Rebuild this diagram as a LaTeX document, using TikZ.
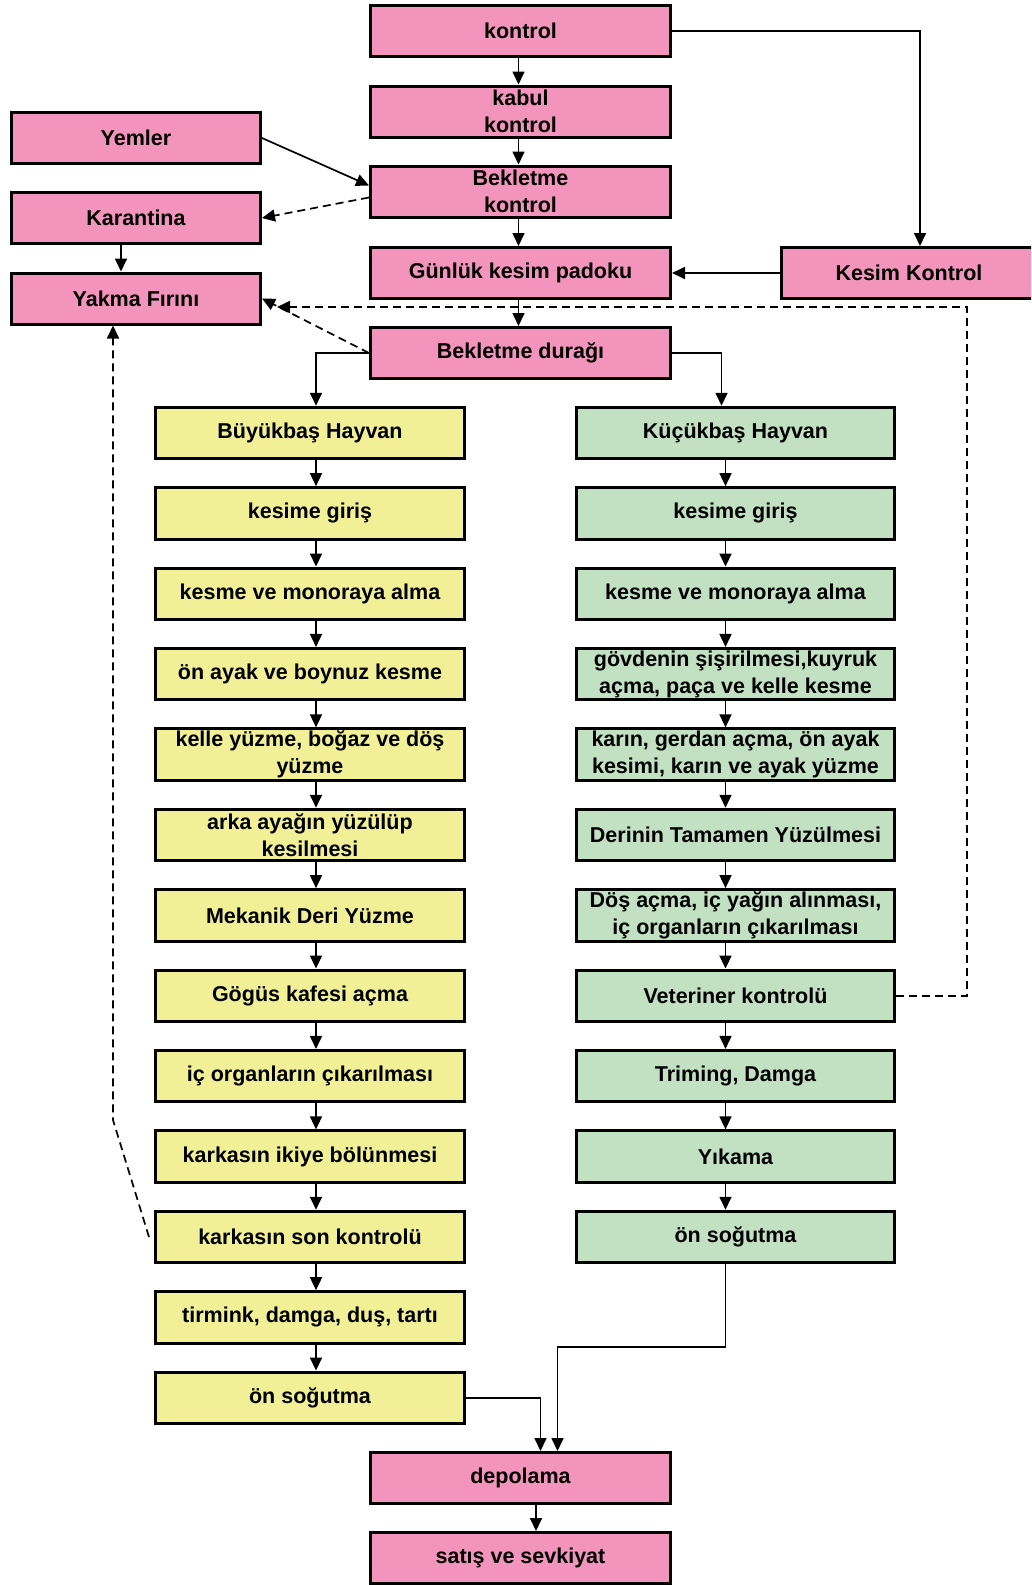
\documentclass[tikz,border=0pt]{standalone}
\usepackage{fontspec}
\setmainfont{Liberation Sans}
\usepackage{xcolor}
\usepackage{tikz}
\usetikzlibrary{arrows.meta, positioning, calc}

\definecolor{boxpink}{RGB}{242,148,188}
\definecolor{boxyellow}{RGB}{241,240,151}
\definecolor{boxgreen}{RGB}{194,225,194}

\begin{document}
\begin{tikzpicture}[x=1pt, y=-1pt,
            pink_box/.style={rectangle, draw=black, line width=3pt, fill=boxpink,
            minimum width=300pt, minimum height=51pt, inner sep=0pt, align=center,
            font=\fontsize{21.5}{27}\selectfont\bfseries},
            side_box/.style={pink_box, minimum width=249pt},
            yel_box/.style={pink_box, fill=boxyellow, minimum width=309pt, minimum height=51.5pt},
            grn_box/.style={pink_box, fill=boxgreen, minimum width=318pt, minimum height=51.5pt},
            flow/.style={-{Triangle[length=13pt,width=12pt]}, line width=1.7pt},
            back/.style={flow, dash pattern=on 8pt off 5pt}
        ]
            \useasboundingbox (0,0) rectangle (1031,1585);
            \clip (0,0) rectangle (1031,1585);

            % Intake (middle column)
            \node[pink_box] (kontrol) at (520.5, 31)   {kontrol};
            \node[pink_box] (kabul)   at (520.5, 111.5) {kabul\\kontrol};
            \node[pink_box] (bekk)    at (520.5, 191.5) {Bekletme\\kontrol};
            \node[pink_box] (padok)   at (520.5, 273)   {Günlük kesim padoku};
            \node[pink_box] (durak)   at (520.5, 353)   {Bekletme durağı};

            % Side boxes
            \node[side_box] (yem)    at (136, 138)   {Yemler};
            \node[side_box] (karan)  at (136, 218)   {Karantina};
            \node[side_box] (firin)  at (136, 298.5) {Yakma Fırını};
            \node[pink_box, minimum width=256pt] (kesim) at (909, 273) {Kesim Kontrol};

            % Large animals (left column)
            \node[yel_box] (b0)  at (310, 433)    {Büyükbaş Hayvan};
            \node[yel_box] (b1)  at (310, 513.4)  {kesime giriş};
            \node[yel_box] (b2)  at (310, 593.8)  {kesme ve monoraya alma};
            \node[yel_box] (b3)  at (310, 674.2)  {ön ayak ve boynuz kesme};
            \node[yel_box] (b4)  at (310, 754.6)  {kelle yüzme, boğaz ve döş\\yüzme};
            \node[yel_box] (b5)  at (310, 835)    {arka ayağın yüzülüp\\kesilmesi};
            \node[yel_box] (b6)  at (310, 915.4)  {Mekanik Deri Yüzme};
            \node[yel_box] (b7)  at (310, 995.8)  {Gögüs kafesi açma};
            \node[yel_box] (b8)  at (310, 1076.2) {iç organların çıkarılması};
            \node[yel_box] (b9)  at (310, 1156.6) {karkasın ikiye bölünmesi};
            \node[yel_box] (b10) at (310, 1237)   {karkasın son kontrolü};
            \node[yel_box] (b11) at (310, 1317.4) {tirmink, damga, duş, tartı};
            \node[yel_box] (b12) at (310, 1397.8) {ön soğutma};

            % Small animals (right column)
            \node[grn_box] (k0)  at (735.5, 433)    {Küçükbaş Hayvan};
            \node[grn_box] (k1)  at (735.5, 513.4)  {kesime giriş};
            \node[grn_box] (k2)  at (735.5, 593.8)  {kesme ve monoraya alma};
            \node[grn_box] (k3)  at (735.5, 674.2)  {gövdenin şişirilmesi,kuyruk\\açma, paça ve kelle kesme};
            \node[grn_box] (k4)  at (735.5, 754.6)  {karın, gerdan açma, ön ayak\\kesimi, karın ve ayak yüzme};
            \node[grn_box] (k5)  at (735.5, 835)    {Derinin Tamamen Yüzülmesi};
            \node[grn_box] (k6)  at (735.5, 915.4)  {Döş açma, iç yağın alınması,\\iç organların çıkarılması};
            \node[grn_box] (k7)  at (735.5, 995.8)  {Veteriner kontrolü};
            \node[grn_box] (k8)  at (735.5, 1076.2) {Triming, Damga};
            \node[grn_box] (k9)  at (735.5, 1156.6) {Yıkama};
            \node[grn_box] (k10) at (735.5, 1237)   {ön soğutma};

            % Storage and dispatch
            \node[pink_box] (depo)  at (520.5, 1478) {depolama};
            \node[pink_box] (satis) at (520.5, 1558) {satış ve sevkiyat};

            \coordinate (firin_in) at (277, 307);

            % Intake arrows
            \foreach \a/\b in {kontrol/kabul, kabul/bekk, bekk/padok, padok/durak} {
                \draw[flow] ([xshift=-2pt]\a.south) -- ([xshift=-2pt]\b.north);
            }
            \draw[flow] (kontrol.east) -| ([xshift=11pt]kesim.north);
            \draw[flow] (kesim.west) -- (padok.east);
            \draw[flow] (yem.east) -- ([yshift=6pt]bekk.west);
            \draw[back] ([yshift=-6pt]bekk.west) -- (karan.east);
            \draw[flow] ([xshift=-15pt]karan.south) -- ([xshift=-15pt]firin.north);
            \draw[back] (durak.west) -- (firin.east);

            % Split into the two lines
            \draw[flow] (durak.west) -| ([xshift=6pt]b0.north);
            \draw[flow] (durak.east) -| ([xshift=-14pt]k0.north);

            % Process steps
            \foreach \i [evaluate=\i as \j using int(\i+1)] in {0,...,11} {
                \draw[flow] ([xshift=6pt]b\i.south) -- ([xshift=6pt]b\j.north);
            }
            \foreach \i [evaluate=\i as \j using int(\i+1)] in {0,...,9} {
                \draw[flow] ([xshift=-10pt]k\i.south) -- ([xshift=-10pt]k\j.north);
            }

            % Rejects to the incinerator
            \draw[back] (k7.east) -- ++(71,0) |- (firin_in);
            \draw[back] ([xshift=-5pt]b10.west) -- ++(-36,-117) -- ([xshift=-23pt]firin.south);

            % To storage
            \draw[flow] (b12.east) -| ([xshift=20pt]depo.north);
            \draw[flow] ([xshift=-10pt]k10.south) -- ++(0,83) -| ([xshift=37pt]depo.north);
            \draw[flow] ([xshift=15.5pt]depo.south) -- ([xshift=15.5pt]satis.north);

        \end{tikzpicture}
\end{document}
